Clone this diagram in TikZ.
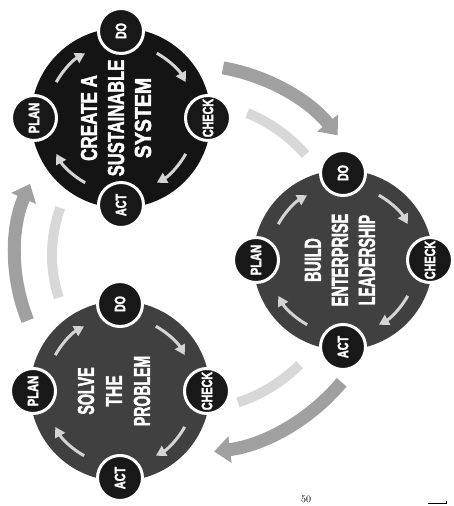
\documentclass[tikz,border=0pt]{standalone}
\usepackage{fontspec}
\newfontfamily\labfont{Liberation Sans}[FakeBold=2.5]
\usetikzlibrary{arrows.meta}
\definecolor{diskA}{HTML}{141414}
\definecolor{diskB}{HTML}{404040}
\definecolor{smallc}{HTML}{181818}
\definecolor{bigarrow}{HTML}{A0A0A0}
\definecolor{faint}{HTML}{D8D8D8}
\definecolor{innerarr}{HTML}{D4D4D4}
\begin{document}
\begin{tikzpicture}[x=1pt,y=1pt,
  disk/.style={circle, minimum size=180pt, inner sep=0pt},
  pdca/.style={circle, fill=smallc, draw=white, line width=3pt, minimum size=45pt, inner sep=0pt,
    text=white, font=\labfont\bfseries\fontsize{15}{15}\selectfont, rotate=90},
  titletext/.style={text=white, align=center, inner sep=0pt, rotate=90,
    font=\labfont\bfseries\fontsize{23}{27}\selectfont},
  inarr/.style={draw=innerarr, line width=3pt, -{Triangle[width=11pt,length=10pt]}},
  bigarr/.style={draw=bigarrow, line width=13pt, -{Triangle[width=26pt,length=16pt]}},
  fband/.style={draw=faint, line width=10pt},
  pagemark/.style={font=\fontsize{10}{10}\selectfont, inner sep=0pt}
]
\useasboundingbox (0,0) rectangle (453,506);
\clip (0,0) rectangle (453,506);
\coordinate (O) at (190,251);

% faint bands between the disks
\coordinate (fA) at ([shift={(68:153)}]O);
\coordinate (fB) at ([shift={(-45:155)}]O);
\coordinate (fC) at ([shift={(160:138)}]O);
\draw[fband] (fA) arc[start angle=68, end angle=41, radius=153];
\draw[fband] (fB) arc[start angle=-45, end angle=-72, radius=155];
\draw[fband] (fC) arc[start angle=160, end angle=198, radius=138];

% big arrows between the disks
\coordinate (a12) at ([shift={(80:190)}]O);
\coordinate (a23) at ([shift={(-40:198)}]O);
\coordinate (a31) at ([shift={(202:175)}]O);
\draw[bigarr] (a12) arc[start angle=80, end angle=39, radius=190];
\draw[bigarr] (a23) arc[start angle=-40, end angle=-83, radius=198];
\draw[bigarr] (a31) arc[start angle=202, end angle=156, radius=175];

% disks
\node[disk, fill=diskA] (c1) at (121,388) {};
\node[disk, fill=diskB] (c2) at (343,246) {};
\node[disk, fill=diskB] (c3) at (120,115) {};

% inner PDCA arrows
\foreach \c in {c1,c2,c3}{
  \draw[inarr] ([shift={(151:74)}]\c) arc[start angle=151, end angle=119, radius=74];
  \draw[inarr] ([shift={(61:74)}]\c) arc[start angle=61, end angle=29, radius=74];
  \draw[inarr] ([shift={(-29:74)}]\c) arc[start angle=-29, end angle=-61, radius=74];
  \draw[inarr] ([shift={(-119:74)}]\c) arc[start angle=-119, end angle=-151, radius=74];
  \node[pdca] (\c-do) at ([shift={(90:87)}]\c) {\scalebox{0.7}[1]{DO}};
  \node[pdca] (\c-check) at ([shift={(0:87)}]\c) {\scalebox{0.72}[1]{CHECK}};
  \node[pdca] (\c-act) at ([shift={(270:87)}]\c) {\scalebox{0.72}[1]{ACT}};
  \node[pdca] (\c-plan) at ([shift={(180:87)}]\c) {\scalebox{0.74}[1]{PLAN}};
}

% titles
\node[titletext] (t1) at (116,388) {\scalebox{0.74}[1]{CREATE A}\\\scalebox{0.72}[1]{SUSTAINABLE}\\\scalebox{0.85}[1]{SYSTEM}};
\node[titletext] (t2) at (340,246) {\scalebox{0.62}[1]{BUILD}\\\scalebox{0.63}[1]{ENTERPRISE}\\\scalebox{0.61}[1]{LEADERSHIP}};
\node[titletext, font=\labfont\bfseries\fontsize{23}{28}\selectfont] (t3) at (114,115) {\scalebox{0.62}[1]{SOLVE}\\\scalebox{0.68}[1]{THE}\\\scalebox{0.61}[1]{PROBLEM}};

% scan artefacts at the bottom edge
\node[pagemark, anchor=north] (pg) at (306,10) {50};
\coordinate (m1) at (428,2);
\coordinate (m2) at (446,2);
\coordinate (m3) at (446,5);
\draw[line width=1pt] (m1) -- (m2) -- (m3);
\end{tikzpicture}
\end{document}
